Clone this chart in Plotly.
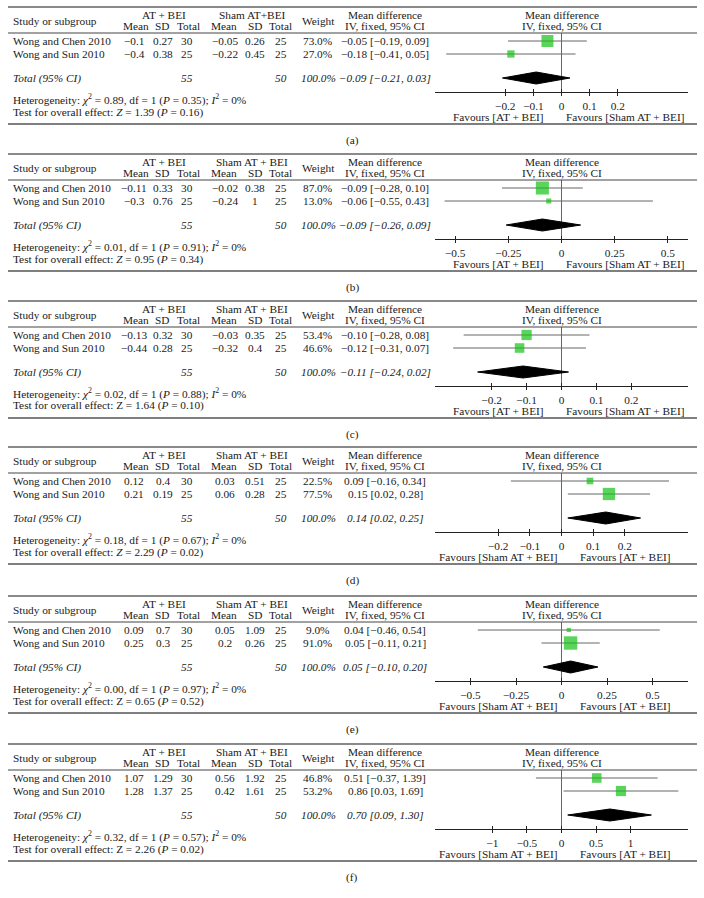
import plotly.graph_objects as go

W, H = 704, 898

# ---- data (six forest plots, a-f) ----
panel_tags = ["(a)", "(b)", "(c)", "(d)", "(e)", "(f)"]
studies = ["Wong and Chen 2010", "Wong and Sun 2010"]

at_mean = [[-0.1, -0.4], [-0.11, -0.3], [-0.13, -0.44], [0.12, 0.21], [0.09, 0.25], [1.07, 1.28]]
at_sd = [[0.27, 0.38], [0.33, 0.76], [0.32, 0.28], [0.4, 0.19], [0.7, 0.3], [1.29, 1.37]]
at_n = [30, 25]
sham_mean = [[-0.05, -0.22], [-0.02, -0.24], [-0.03, -0.32], [0.03, 0.06], [0.05, 0.2], [0.56, 0.42]]
sham_sd = [[0.26, 0.45], [0.38, 1], [0.35, 0.4], [0.51, 0.28], [1.09, 0.26], [1.92, 1.61]]
sham_n = [25, 25]
weights = [[73.0, 27.0], [87.0, 13.0], [53.4, 46.6], [22.5, 77.5], [9.0, 91.0], [46.8, 53.2]]
md = [[-0.05, -0.18], [-0.09, -0.06], [-0.10, -0.12], [0.09, 0.15], [0.04, 0.05], [0.51, 0.86]]
md_lo = [[-0.19, -0.41], [-0.28, -0.55], [-0.28, -0.31], [-0.16, 0.02], [-0.46, -0.11], [-0.37, 0.03]]
md_hi = [[0.09, 0.05], [0.10, 0.43], [0.08, 0.07], [0.34, 0.28], [0.54, 0.21], [1.39, 1.69]]
total_md = [-0.09, -0.09, -0.11, 0.14, 0.05, 0.70]
total_lo = [-0.21, -0.26, -0.24, 0.02, -0.10, 0.09]
total_hi = [0.03, 0.09, 0.02, 0.25, 0.20, 1.30]
at_total = 55
sham_total = 50
chi2 = ["0.89", "0.01", "0.02", "0.18", "0.00", "0.32"]
het_p = ["0.35", "0.91", "0.88", "0.67", "0.97", "0.57"]
z_vals = ["1.39", "0.95", "1.64", "2.29", "0.65", "2.26"]
z_p = ["0.16", "0.34", "0.10", "0.02", "0.52", "0.02"]
z_italic = [True, True, False, True, False, False]
tickvals = [
    [-0.2, -0.1, 0, 0.1, 0.2],
    [-0.5, -0.25, 0, 0.25, 0.5],
    [-0.2, -0.1, 0, 0.1, 0.2],
    [-0.2, -0.1, 0, 0.1, 0.2],
    [-0.5, -0.25, 0, 0.25, 0.5],
    [-1, -0.5, 0, 0.5, 1],
]
sham_headers = ["Sham AT+BEI"] + ["Sham AT + BEI"] * 5
fav_left = ["Favours [AT + BEI]"] * 3 + ["Favours [Sham AT + BEI]"] * 3
fav_right = ["Favours [Sham AT + BEI]"] * 3 + ["Favours [AT + BEI]"] * 3

# ---- layout constants (pixels) ----
panel_tops = [7, 154, 301, 447, 596, 744]
x_half = [0.45, 0.595, 0.362, 0.40, 0.695, 1.83]
PLOT_L, PLOT_R = 435, 688
ROW_Y = [34, 47]
TOTAL_Y = 71
HDR_LINE, AXIS_Y = 26, 85
GREEN = "#14c214"
FONT = dict(family="Liberation Serif, Times New Roman, serif", size=11.3, color="#1a1a1a")


def px(x):
    return x / W


def py(y):
    return 1 - y / H


def num(v):
    return f"{v:g}".replace("-", "\u2212")


def ci(v, lo, hi):
    return f"{v:.2f} [{lo:.2f}, {hi:.2f}]".replace("-", "\u2212")


fig = go.Figure()
annotations = []
shapes = []
layout_axes = {}


def label(x, y, text, anchor="center"):
    annotations.append(dict(
        x=px(x), y=py(y), xref="paper", yref="paper", text=text, showarrow=False,
        xanchor=anchor, yanchor="middle", font=FONT,
    ))


def hline(y, color, width):
    shapes.append(dict(type="line", xref="paper", yref="paper", x0=px(8), x1=px(697),
                       y0=py(y), y1=py(y), line=dict(color=color, width=width)))


for i, top in enumerate(panel_tops):
    n = "" if i == 0 else str(i + 1)
    xa, ya = "x" + n, "y" + n

    # lines of the table
    hline(top, "#8a8a8a", 2)
    hline(top + HDR_LINE, "#444", 1)
    hline(top + 117, "#555", 1.3)

    # header
    label(11, top + 14, "Study or subgroup", "left")
    label(164, top + 8, "AT + BEI")
    label(252, top + 8, sham_headers[i])
    for cx, t in [(136, "Mean"), (162, "SD"), (188, "Total"), (224, "Mean"), (255, "SD"), (280, "Total")]:
        label(cx, top + 19, t)
    label(318, top + 14, "Weight")
    label(385, top + 8, "Mean difference")
    label(385, top + 19, "IV, fixed, 95% CI")
    label(562, top + 8, "Mean difference")
    label(562, top + 19, "IV, fixed, 95% CI")

    # study rows
    for k in range(2):
        y = top + ROW_Y[k]
        label(11, y, studies[k], "left")
        label(134, y, num(at_mean[i][k]))
        label(163, y, num(at_sd[i][k]))
        label(187, y, str(at_n[k]))
        label(225, y, num(sham_mean[i][k]))
        label(255, y, num(sham_sd[i][k]))
        label(281, y, str(sham_n[k]))
        label(318, y, f"{weights[i][k]:.1f}%")
        label(385, y, ci(md[i][k], md_lo[i][k], md_hi[i][k]))

    # total row
    y = top + TOTAL_Y
    label(11, y, "<i>Total (95% CI)</i>", "left")
    label(187, y, f"<i>{at_total}</i>")
    label(281, y, f"<i>{sham_total}</i>")
    label(318, y, "<i>100.0%</i>")
    label(385, y, "<i>" + ci(total_md[i], total_lo[i], total_hi[i]) + "</i>")

    # heterogeneity / overall effect
    label(11, top + 92,
          f"Heterogeneity: <i>\u03c7</i><sup>2</sup> = {chi2[i]}, df = 1 (<i>P</i> = {het_p[i]}); "
          f"<i>I</i><sup>2</sup> = 0%", "left")
    zt = "<i>Z</i>" if z_italic[i] else "Z"
    label(11, top + 105, f"Test for overall effect: {zt} = {z_vals[i]} (<i>P</i> = {z_p[i]})", "left")

    label(498, top + 110, fav_left[i])
    label(625, top + 110, fav_right[i])
    label(352, top + 133, panel_tags[i])

    # forest plot
    ci_x, ci_y = [], []
    for k in range(2):
        ci_x += [md_lo[i][k], md_hi[i][k], None]
        ci_y += [ROW_Y[k], ROW_Y[k], None]
    fig.add_trace(go.Scatter(x=ci_x, y=ci_y, mode="lines", xaxis=xa, yaxis=ya,
                             line=dict(color="#666", width=1), hoverinfo="skip", showlegend=False))
    fig.add_trace(go.Scatter(
        x=md[i], y=ROW_Y, mode="markers", xaxis=xa, yaxis=ya, showlegend=False,
        marker=dict(symbol="square", color=GREEN, line=dict(width=0),
                    size=[14 * (w / 100) ** 0.5 for w in weights[i]]),
    ))
    fig.add_trace(go.Scatter(
        x=[total_lo[i], total_md[i], total_hi[i], total_md[i], total_lo[i]],
        y=[TOTAL_Y, TOTAL_Y - 6, TOTAL_Y, TOTAL_Y + 6, TOTAL_Y],
        mode="lines", fill="toself", fillcolor="black", line=dict(color="black", width=1),
        xaxis=xa, yaxis=ya, showlegend=False, hoverinfo="skip",
    ))

    layout_axes["xaxis" + n] = dict(
        domain=[px(PLOT_L), px(PLOT_R)], range=[-x_half[i], x_half[i]], anchor=ya,
        showgrid=False, zeroline=True, zerolinecolor="#666", zerolinewidth=1,
        showline=True, linecolor="#222", linewidth=1,
        ticks="outside", ticklen=3, tickcolor="#222", tickvals=tickvals[i],
        minor=dict(ticks="inside", ticklen=3, tickcolor="#222", tickvals=tickvals[i], showgrid=False),
        tickfont=FONT, fixedrange=True,
    )
    layout_axes["yaxis" + n] = dict(
        domain=[py(top + AXIS_Y), py(top + HDR_LINE)], range=[AXIS_Y, HDR_LINE], anchor=xa,
        visible=False, fixedrange=True,
    )

fig.update_layout(
    width=W, height=H,
    margin=dict(l=0, r=0, t=0, b=0),
    paper_bgcolor="white", plot_bgcolor="rgba(0,0,0,0)",
    font=FONT, showlegend=False,
    annotations=annotations, shapes=shapes,
    **layout_axes,
)
fig.write_html(
    "out.html",
    config={"displayModeBar": False},
    post_script="document.body.style.margin='0';document.body.style.overflow='hidden';",
)
